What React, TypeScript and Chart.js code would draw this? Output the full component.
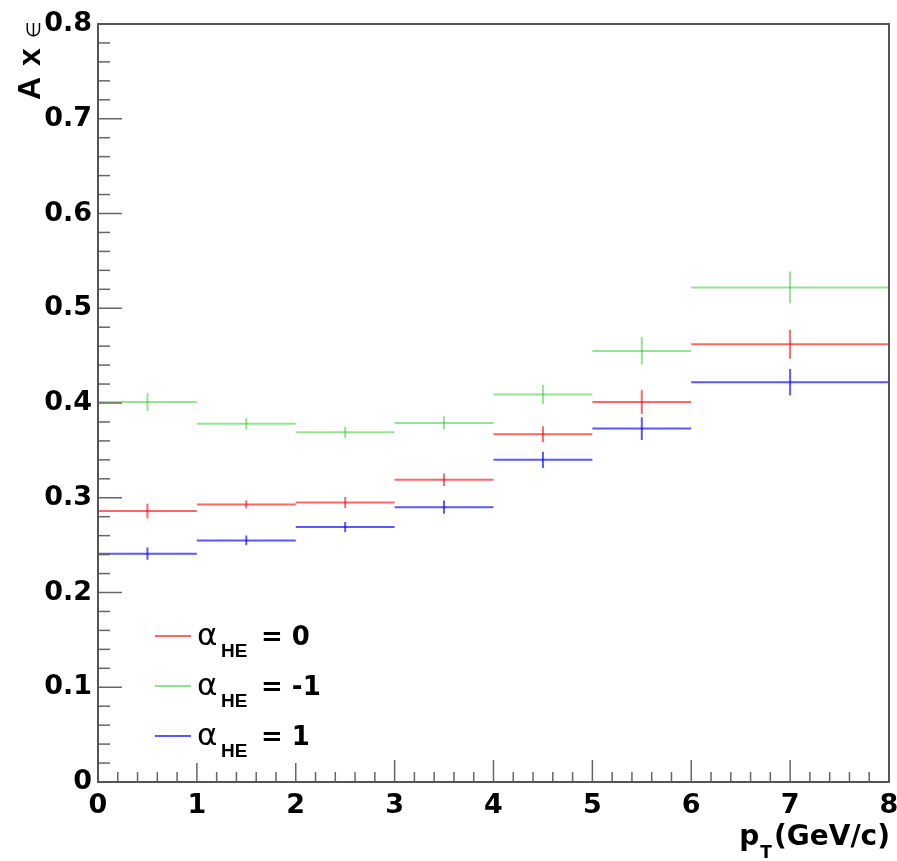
import React, { useEffect, useRef } from 'react';
import { Chart, registerables } from 'chart.js';

Chart.register(...registerables);

// ---- data ----
const binEdges = [0, 1, 2, 3, 4, 5, 6, 8];
const alphaValues = ['0', '-1', '1'];
const redValues = [0.286, 0.293, 0.295, 0.319, 0.367, 0.401, 0.462];
const redErrors = [0.0076, 0.0044, 0.0058, 0.0067, 0.0084, 0.0125, 0.0153];
const greenValues = [0.401, 0.378, 0.369, 0.379, 0.409, 0.455, 0.522];
const greenErrors = [0.0095, 0.0063, 0.006, 0.007, 0.01, 0.0146, 0.0167];
const blueValues = [0.241, 0.255, 0.269, 0.29, 0.34, 0.373, 0.422];
const blueErrors = [0.0065, 0.0051, 0.0053, 0.007, 0.0085, 0.012, 0.014];
const seriesColors = ['rgba(255,0,0,0.6)', 'rgba(0,190,0,0.42)', 'rgba(0,0,255,0.65)'];
const xMin = 0;
const xMax = 8;
const yMin = 0;
const yMax = 0.8;
const xTitleMain = 'p';
const xTitleSub = 'T';
const xTitleRest = '(GeV/c)';

const series = [
  { values: redValues, errors: redErrors },
  { values: greenValues, errors: greenErrors },
  { values: blueValues, errors: blueErrors },
];

function binData(values: number[]) {
  const out: any[] = [];
  values.forEach((v, i) => {
    out.push({ x: binEdges[i], y: v });
    out.push({ x: binEdges[i + 1], y: v });
    out.push({ x: binEdges[i + 1], y: null });
  });
  return out;
}

function errData(values: number[], errors: number[]) {
  const out: any[] = [];
  values.forEach((v, i) => {
    const c = (binEdges[i] + binEdges[i + 1]) / 2;
    out.push({ x: c, y: v - errors[i] });
    out.push({ x: c, y: v + errors[i] });
    out.push({ x: c, y: null });
  });
  return out;
}

const FRAME = '#555';

const decorPlugin = {
  id: 'rootDecor',
  afterDraw(chart: any) {
    const { ctx, chartArea: a, scales } = chart;
    const xs = scales.x;
    const ys = scales.y;
    ctx.save();
    // ticks inside frame
    ctx.strokeStyle = '#666';
    ctx.lineWidth = 1.5;
    for (let i = 0; i <= 40; i++) {
      const v = (i / 40) * (yMax - yMin) + yMin;
      const py = ys.getPixelForValue(v);
      const len = i % 5 === 0 ? 24 : 12;
      ctx.beginPath();
      ctx.moveTo(a.left, py);
      ctx.lineTo(a.left + len, py);
      ctx.stroke();
    }
    for (let i = 0; i <= 40; i++) {
      const v = (i / 40) * (xMax - xMin) + xMin;
      const px = xs.getPixelForValue(v);
      const len = i % 5 === 0 ? 22 : 10;
      ctx.beginPath();
      ctx.moveTo(px, a.bottom);
      ctx.lineTo(px, a.bottom - len);
      ctx.stroke();
    }
    // frame
    ctx.strokeStyle = FRAME;
    ctx.lineWidth = 2;
    ctx.strokeRect(a.left, a.top, a.right - a.left, a.bottom - a.top);

    // legend box
    const lx = a.left + 26;
    const ly = a.bottom - 177;
    ctx.fillStyle = '#fff';
    ctx.fillRect(lx, ly, 230, 158);
    series.forEach((s, k) => {
      const base = a.bottom - 137 + k * 50;
      ctx.strokeStyle = seriesColors[k];
      ctx.lineWidth = 2;
      ctx.beginPath();
      ctx.moveTo(a.left + 57, base - 9);
      ctx.lineTo(a.left + 93, base - 9);
      ctx.stroke();
      ctx.fillStyle = '#000';
      ctx.textAlign = 'left';
      ctx.textBaseline = 'alphabetic';
      ctx.font = '31px "DejaVu Sans"';
      ctx.fillText('α', a.left + 99, base);
      ctx.font = 'bold 19px "Liberation Sans"';
      ctx.fillText('HE', a.left + 123, base + 12);
      ctx.font = 'bold 26px "DejaVu Sans"';
      ctx.fillText('= ' + alphaValues[k], a.left + 163, base);
    });

    // x title
    ctx.fillStyle = '#000';
    ctx.textBaseline = 'alphabetic';
    ctx.textAlign = 'right';
    ctx.font = 'bold 28px "DejaVu Sans"';
    const restW = ctx.measureText(xTitleRest).width;
    ctx.fillText(xTitleRest, a.right + 1, 845);
    ctx.font = 'bold 17px "DejaVu Sans"';
    const subW = ctx.measureText(xTitleSub).width;
    ctx.fillText(xTitleSub, a.right + 1 - restW - 2, 858);
    ctx.font = 'bold 28px "DejaVu Sans"';
    ctx.fillText(xTitleMain, a.right + 1 - restW - subW - 3, 845);

    // y title (rotated)
    ctx.save();
    ctx.translate(40, 100);
    ctx.rotate(-Math.PI / 2);
    ctx.textAlign = 'left';
    ctx.font = 'bold 32px "Liberation Sans"';
    ctx.fillText('A', 0, 0);
    ctx.fillText('x', 34, 0);
    ctx.font = '19px "DejaVu Sans"';
    ctx.fillText('∈', 62, 0);
    ctx.restore();

    ctx.restore();
  },
};

export default function App() {
  const ref = useRef<HTMLCanvasElement | null>(null);
  useEffect(() => {
    if (!ref.current) return;
    const datasets: any[] = [];
    series.forEach((s, k) => {
      datasets.push({
        data: binData(s.values),
        borderColor: seriesColors[k],
        borderWidth: 2,
        pointRadius: 0,
        showLine: true,
        spanGaps: false,
      });
      datasets.push({
        data: errData(s.values, s.errors),
        borderColor: seriesColors[k],
        borderWidth: 2,
        pointRadius: 0,
        showLine: true,
        spanGaps: false,
      });
    });
    const chart = new Chart(ref.current, {
      type: 'scatter',
      data: { datasets },
      plugins: [decorPlugin],
      options: {
        animation: false,
        responsive: false,
        devicePixelRatio: 1,
        layout: { padding: { top: 24, right: 8, left: 0, bottom: 0 } },
        plugins: { legend: { display: false }, tooltip: { enabled: false } },
        scales: {
          x: {
            type: 'linear',
            min: xMin,
            max: xMax,
            grid: { display: false, drawTicks: false },
            border: { display: false },
            ticks: {
              stepSize: 1,
              padding: 8,
              color: '#000',
              font: { family: 'DejaVu Sans', weight: 'bold', size: 27 },
              callback: (v: any) => String(v),
              maxRotation: 0,
            },
            afterFit: (s: any) => {
              s.height = 79;
              s.paddingLeft = 0;
              s.paddingRight = 0;
            },
          },
          y: {
            type: 'linear',
            min: yMin,
            max: yMax,
            grid: { display: false, drawTicks: false },
            border: { display: false },
            ticks: {
              stepSize: 0.1,
              padding: 6,
              color: '#000',
              font: { family: 'DejaVu Sans', weight: 'bold', size: 27 },
              callback: (v: any) => (Number(v) === 0 ? '0' : Number(v).toFixed(1)),
            },
            afterFit: (s: any) => {
              s.width = 98;
              s.paddingTop = 0;
              s.paddingBottom = 0;
            },
          },
        },
      },
    });
    return () => chart.destroy();
  }, []);
  return (
    <div style={{ position: 'absolute', left: 0, top: 0, width: 897, height: 861, background: '#fff' }}>
      <canvas ref={ref} width={897} height={861} />
    </div>
  );
}
